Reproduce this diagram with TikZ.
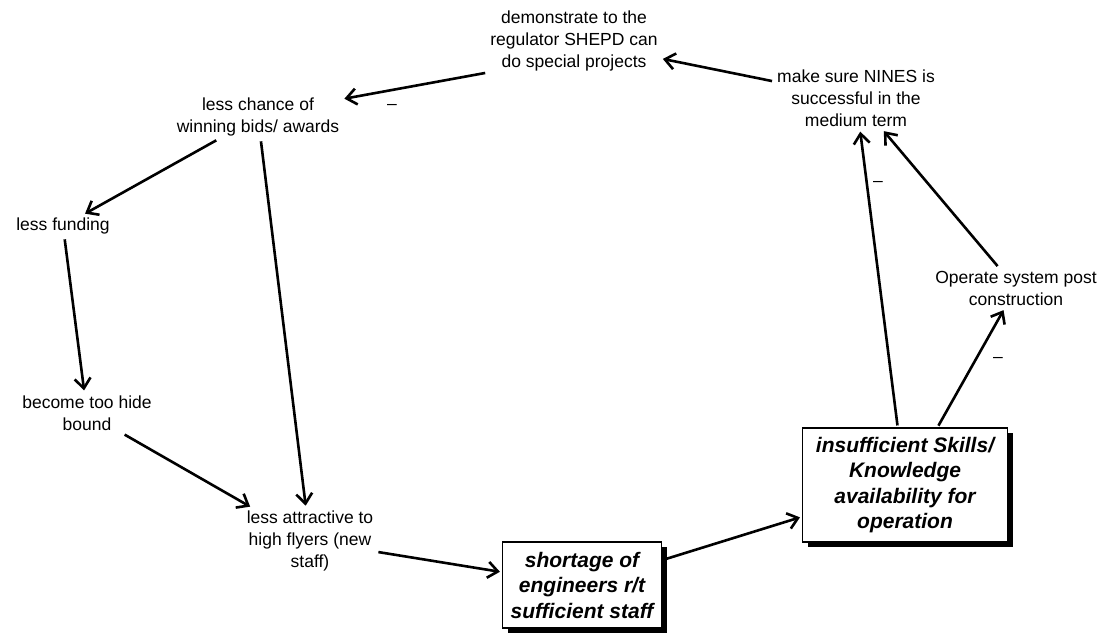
\documentclass[tikz,border=0pt]{standalone}
\usepackage{fontspec}
\setmainfont{Liberation Sans}
\usetikzlibrary{arrows.meta,shadows}
\tikzset{
  lbl/.style={align=center, inner sep=3pt, font=\fontsize{17.5}{22}\selectfont, text=black},
  boxnode/.style={draw=black, line width=1.2pt, fill=white, align=center, inner sep=2pt,
    font=\fontsize{21}{25.5}\selectfont\bfseries\itshape,
    drop shadow={shadow xshift=5pt, shadow yshift=-5pt, opacity=1, fill=black}},
  link/.style={line width=2.6pt, -{Straight Barb[length=10pt,width=16pt]}, shorten >=2pt, shorten <=2pt},
  sign/.style={inner sep=0pt, font=\fontsize{17.5}{22}\selectfont}
}
\begin{document}
\begin{tikzpicture}[x=1pt,y=-1pt]
\useasboundingbox (0,0) rectangle (1108,637);
\node[lbl] (demo) at (574,41) {demonstrate to the\\regulator SHEPD can\\do special projects};
\node[lbl] (chance) at (258,117) {less chance of\\winning bids/ awards};
\node[lbl] (fund) at (63,226) {less funding};
\node[lbl] (hide) at (87,413) {become too hide\\bound};
\node[lbl] (attr) at (310,541) {less attractive to\\high flyers (new\\staff)};
\node[boxnode, minimum width=159pt, minimum height=86pt] (short) at (582,585) {shortage of\\engineers r/t\\sufficient staff};
\node[boxnode, minimum width=205pt, minimum height=114pt] (insuf) at (905,485) {insufficient Skills/\\Knowledge\\availability for\\operation};
\node[lbl] (oper) at (1016,288) {Operate system post\\construction};
\node[lbl] (make) at (856,98) {make sure NINES is\\successful in the\\medium term};
\draw[link] (make) -- (demo);
\draw[link] (demo.200) -- (chance.12);
\draw[link] (chance) -- (fund);
\draw[link] (chance) -- (attr);
\draw[link] (fund) -- (hide);
\draw[link] (hide) -- (attr);
\draw[link] (attr) -- (short);
\draw[link] (short) -- (insuf);
\draw[link] (insuf) -- (make);
\draw[link] (insuf) -- (oper);
\draw[link] (oper) -- (make);
\node[sign] (m1) at (392,107) {–};
\node[sign] (m2) at (878,184) {–};
\node[sign] (m3) at (998,360) {–};
\end{tikzpicture}
\end{document}
